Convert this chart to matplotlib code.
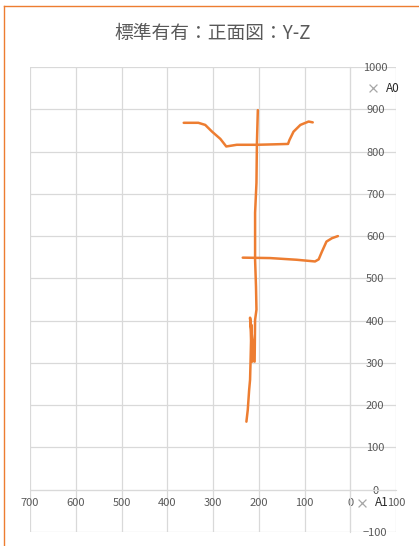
import numpy as np
import matplotlib
matplotlib.use('Agg')
from matplotlib import pyplot as plt
from matplotlib.lines import Line2D

plt.rcParams['font.family'] = ['Noto Sans CJK JP', 'DejaVu Sans']

title = '標準有有：正面図：Y-Z'

# strokes of the trace (x = Y, y = Z)
top_x = [364, 332, 317, 302, 284, 271, 248, 204, 168, 136, 133, 124, 109, 91, 82]
top_y = [868, 868, 863, 847, 830, 812, 816, 816, 817, 818, 827, 847, 863, 871, 869]

stem_x = [202, 204, 205, 208, 208, 208, 206, 205, 208, 209, 219, 214, 216, 218, 219, 221, 224, 227]
stem_y = [898, 820, 726, 655, 591, 544, 480, 426, 402, 303, 407, 303, 390, 300, 260, 236, 189, 161]

mid_x = [235, 175, 117, 77, 69, 62, 52, 40, 27]
mid_y = [549, 548, 544, 540, 545, 563, 587, 595, 600]

# labelled points
pt_names = ['A0', 'A1']
pt_x = [-50, -26]
pt_y = [950, -31]

x_ticks = [700, 600, 500, 400, 300, 200, 100, 0, -100]
x_labels = ['700', '600', '500', '400', '300', '200', '100', '0', '100']
y_ticks = [1000, 900, 800, 700, 600, 500, 400, 300, 200, 100, 0, -100]

grey = '#595959'
grid = '#d9d9d9'
orange = '#ED7D31'

fig = plt.figure(figsize=(4.19, 5.46), dpi=100)
ax = fig.add_axes([30 / 419, 1 - 532 / 546, 366 / 419, 465 / 546])

for xs, ys in [(top_x, top_y), (stem_x, stem_y), (mid_x, mid_y)]:
    ax.plot(xs, ys, color=orange, lw=1.8, solid_capstyle='round',
            solid_joinstyle='round', zorder=3)

ax.scatter(pt_x, pt_y, marker='x', s=32, color='#a6a6a6', linewidths=0.9, zorder=4)
for n, x, y in zip(pt_names, pt_x, pt_y):
    ax.annotate(n, (x, y), xytext=(9, 0), textcoords='offset points',
                va='center', ha='left', fontsize=8.5, color='#262626', zorder=5)

ax.set_xlim(700, -100)
ax.set_ylim(-100, 1000)
ax.set_xticks(x_ticks)
ax.set_xticklabels(x_labels)
ax.set_yticks(y_ticks)
ax.grid(True, color=grid, lw=0.9)
ax.set_axisbelow(True)

for s in ['top', 'left']:
    ax.spines[s].set_visible(False)
ax.spines['bottom'].set_position(('data', 0))
ax.spines['right'].set_position(('data', 0))
ax.spines['bottom'].set_color(grid)
ax.spines['right'].set_color(grid)
ax.yaxis.tick_right()
ax.tick_params(axis='both', length=0, labelsize=8, labelcolor=grey)
ax.tick_params(axis='x', pad=6)
for lab in ax.get_yticklabels():
    lab.set_horizontalalignment('center')
ax.tick_params(axis='y', pad=18)

fig.text(213 / 419, 1 - 34 / 546, title, ha='center', va='center',
         fontsize=13.5, color=grey)

# chart border (left and top edges visible)
fig.add_artist(Line2D([4 / 419, 4 / 419], [0, 1 - 6 / 546], color=orange, lw=1,
                      transform=fig.transFigure))
fig.add_artist(Line2D([4 / 419, 1.01], [1 - 6 / 546, 1 - 6 / 546], color=orange, lw=1,
                      transform=fig.transFigure))

plt.savefig('out.png', dpi=100)
